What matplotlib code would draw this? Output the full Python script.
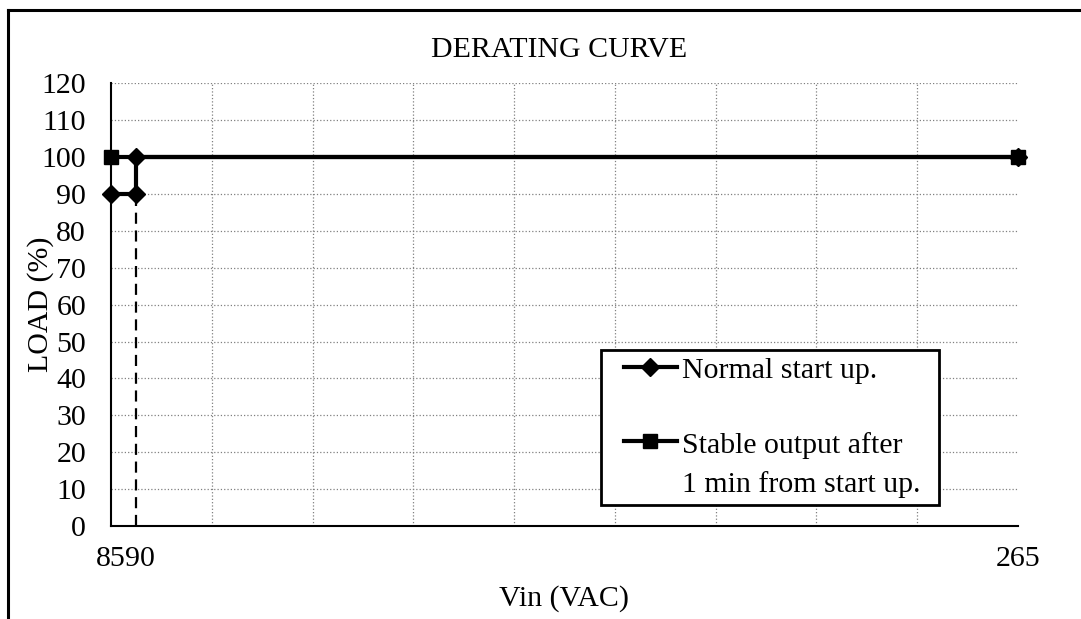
import matplotlib
matplotlib.use("Agg")
import numpy as np
import matplotlib.pyplot as plt
from matplotlib.lines import Line2D
from matplotlib.legend_handler import HandlerLine2D
from matplotlib.transforms import ScaledTranslation

plt.rcParams['font.family'] = ['Liberation Serif', 'DejaVu Serif']

# datos
vin_normal = [85, 90, 90, 265]
load_normal = [90, 90, 100, 100]
vin_stable = [85, 265]
load_stable = [100, 100]
vin_limit = [90, 90]
load_limit = [0, 90]
x_ticks = [85, 90, 265]
x_grid = [105, 125, 145, 165, 185, 205, 225, 245, 265]
y_ticks = list(range(0, 121, 10))

FS = 21.5


class ShiftHandler(HandlerLine2D):
    # recorta el inicio del simbolo y lo sube si la etiqueta tiene dos lineas
    def __init__(self, dx=0, dy=0, **kw):
        super().__init__(**kw)
        self.dx = dx
        self.dy = dy

    def create_artists(self, legend, orig_handle, xdescent, ydescent,
                       width, height, fontsize, trans):
        arts = super().create_artists(legend, orig_handle, xdescent, ydescent,
                                      width, height, fontsize, trans)
        for a in arts:
            xs = np.asarray(a.get_xdata(), dtype=float)
            a.set_xdata(np.linspace(xs.min() + self.dx, xs.max(), len(xs)))
            a.set_ydata([y + self.dy * fontsize for y in a.get_ydata()])
        return arts


fig = plt.figure(figsize=(10.81, 6.19), dpi=100)
ax = fig.add_axes([0.1027, 0.150, 0.8390, 0.7157])

ax.plot(vin_limit, load_limit, color='black', lw=1.6, ls=(0, (5, 3)), zorder=3)
l1, = ax.plot(vin_normal, load_normal, color='black', lw=3, marker='D',
              ms=9.5, zorder=4, clip_on=False, label='Normal start up.')
l2, = ax.plot(vin_stable, load_stable, color='black', lw=3, marker='s',
              ms=10.5, zorder=5, clip_on=False,
              label='Stable output after\n1 min from start up.')

ax.set_xlim(85, 265)
ax.set_ylim(0, 120)
ax.set_xticks(x_ticks)
ax.set_xticks(x_grid, minor=True)
ax.set_yticks(y_ticks)
ax.tick_params(which='both', length=0, labelsize=FS)
ax.tick_params(axis='x', pad=14)
ax.tick_params(axis='y', pad=18)

ax.grid(which='minor', axis='x', ls=':', color='gray', lw=0.9)
ax.grid(which='major', axis='y', ls=':', color='gray', lw=0.9)
ax.set_axisbelow(True)

# separar un poco "85" y "90"
xt = ax.xaxis.get_major_ticks()
xt[1].label1.set_transform(xt[1].label1.get_transform()
                           + ScaledTranslation(4 / 100, 0, fig.dpi_scale_trans))

for s in ['top', 'right']:
    ax.spines[s].set_visible(False)
for s in ['left', 'bottom']:
    ax.spines[s].set_linewidth(1.5)
    ax.spines[s].set_color('black')

ax.set_xlabel('Vin (VAC)', fontsize=FS)
ax.set_ylabel('LOAD (%)', fontsize=FS)
ax.xaxis.set_label_coords(0.5, -0.1625)
ax.xaxis.label.set_va('center')
ax.yaxis.set_label_coords(-0.078, 0.5)
ax.yaxis.label.set_va('center')

fig.text(0.517, 1 - 50 / 619, 'DERATING CURVE', ha='center', va='center', fontsize=FS)

leg = ax.legend(handles=[l1, l2], loc='upper left',
                bbox_to_anchor=(0.540, 0.063, 0.3727, 0.334), mode='expand',
                borderaxespad=0, fontsize=FS, fancybox=False, framealpha=1,
                edgecolor='black', handlelength=2.32, handletextpad=0.17,
                borderpad=0.22, labelspacing=1.62,
                handler_map={l1: ShiftHandler(dx=11.9),
                             l2: ShiftHandler(dx=11.9, dy=0.8)})
leg.get_frame().set_linewidth(2)
for t in leg.get_texts():
    t.set_linespacing(1.58)

# marco exterior
fig.add_artist(Line2D([8 / 1081, 1], [1 - 10 / 619] * 2, transform=fig.transFigure,
                      color='black', lw=2.2))
fig.add_artist(Line2D([8 / 1081] * 2, [0, 1 - 10 / 619], transform=fig.transFigure,
                      color='black', lw=2.2))

fig.savefig('out.png', dpi=100)
